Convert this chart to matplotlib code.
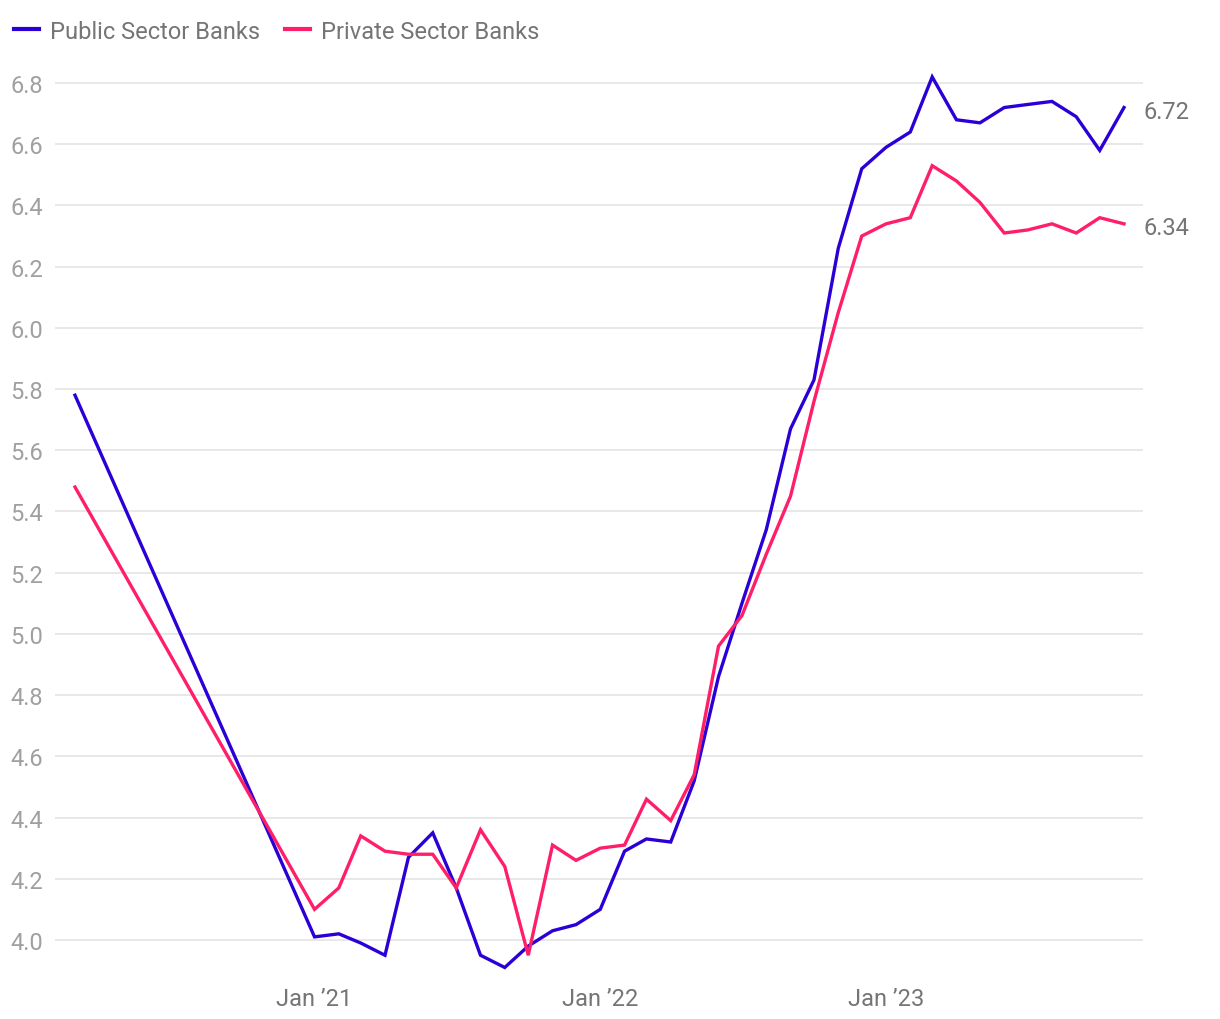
import datetime as dt
import matplotlib
matplotlib.use("Agg")
import matplotlib.pyplot as plt
import matplotlib.dates as mdates

# Months: Mar 2020, then Jan 2021 .. Nov 2023
months = [dt.date(2020, 3, 1)] + [dt.date(2021 + m // 12, m % 12 + 1, 1) for m in range(35)]

public = [5.78,
          4.01, 4.02, 3.99, 3.95, 4.27, 4.35, 4.17, 3.95, 3.91, 3.98, 4.03, 4.05,
          4.10, 4.29, 4.33, 4.32, 4.52, 4.86, 5.10, 5.34, 5.67, 5.83, 6.26, 6.52,
          6.59, 6.64, 6.82, 6.68, 6.67, 6.72, 6.73, 6.74, 6.69, 6.58, 6.72]
private = [5.48,
           4.10, 4.17, 4.34, 4.29, 4.28, 4.28, 4.17, 4.36, 4.24, 3.95, 4.31, 4.26,
           4.30, 4.31, 4.46, 4.39, 4.54, 4.96, 5.06, 5.26, 5.45, 5.76, 6.05, 6.30,
           6.34, 6.36, 6.53, 6.48, 6.41, 6.31, 6.32, 6.34, 6.31, 6.36, 6.34]

series = [("Public Sector Banks", public, "#2b00d6"),
          ("Private Sector Banks", private, "#ff1f68")]

yticks = [4.0, 4.2, 4.4, 4.6, 4.8, 5.0, 5.2, 5.4, 5.6, 5.8, 6.0, 6.2, 6.4, 6.6, 6.8]
xticks = [dt.date(2021, 1, 1), dt.date(2022, 1, 1), dt.date(2023, 1, 1)]
xtick_labels = ["Jan \u201921", "Jan \u201922", "Jan \u201923"]

plt.rcParams['font.family'] = ['Roboto', 'DejaVu Sans']

fig = plt.figure(figsize=(12.2, 10.2), dpi=100)
ax = fig.add_axes([0.0451, 0.0475, 0.8918, 0.9001])

for name, vals, col in series:
    ax.plot(months, vals, color=col, lw=2.4, label=name, solid_joinstyle='miter')
    ax.annotate(f"{vals[-1]:.2f}", (months[-1], vals[-1]), xytext=(14, -3),
                textcoords='offset points', ha='left', va='center',
                fontsize=17, color='#757575')

# a little padding either side of the first / last month
ax.set_xlim(mdates.date2num(months[0]) - 25.5, mdates.date2num(months[-1]) + 24.3)
ax.set_ylim(3.9, 6.9)

ax.set_yticks(yticks)
ax.set_yticklabels([f"{v:.1f}" for v in yticks])
ax.set_xticks(xticks)
ax.set_xticklabels(xtick_labels)

ax.tick_params(axis='y', length=0, pad=8.5, labelsize=17, labelcolor='#a0a0a0')
ax.tick_params(axis='x', length=0, pad=12, labelsize=17, labelcolor='#757575')
ax.grid(axis='y', color='#e6e6e6', lw=1.3)
ax.set_axisbelow(True)
for s in ax.spines.values():
    s.set_visible(False)

leg = fig.legend(loc='upper left', bbox_to_anchor=(-0.002, 0.996), ncol=2, frameon=False,
                 fontsize=17, handlelength=1.05, handletextpad=0.45,
                 columnspacing=1.1, borderaxespad=0.3)
for t in leg.get_texts():
    t.set_color('#757575')
for h in leg.legend_handles:
    h.set_linewidth(3)

fig.savefig("out.png", dpi=100)
